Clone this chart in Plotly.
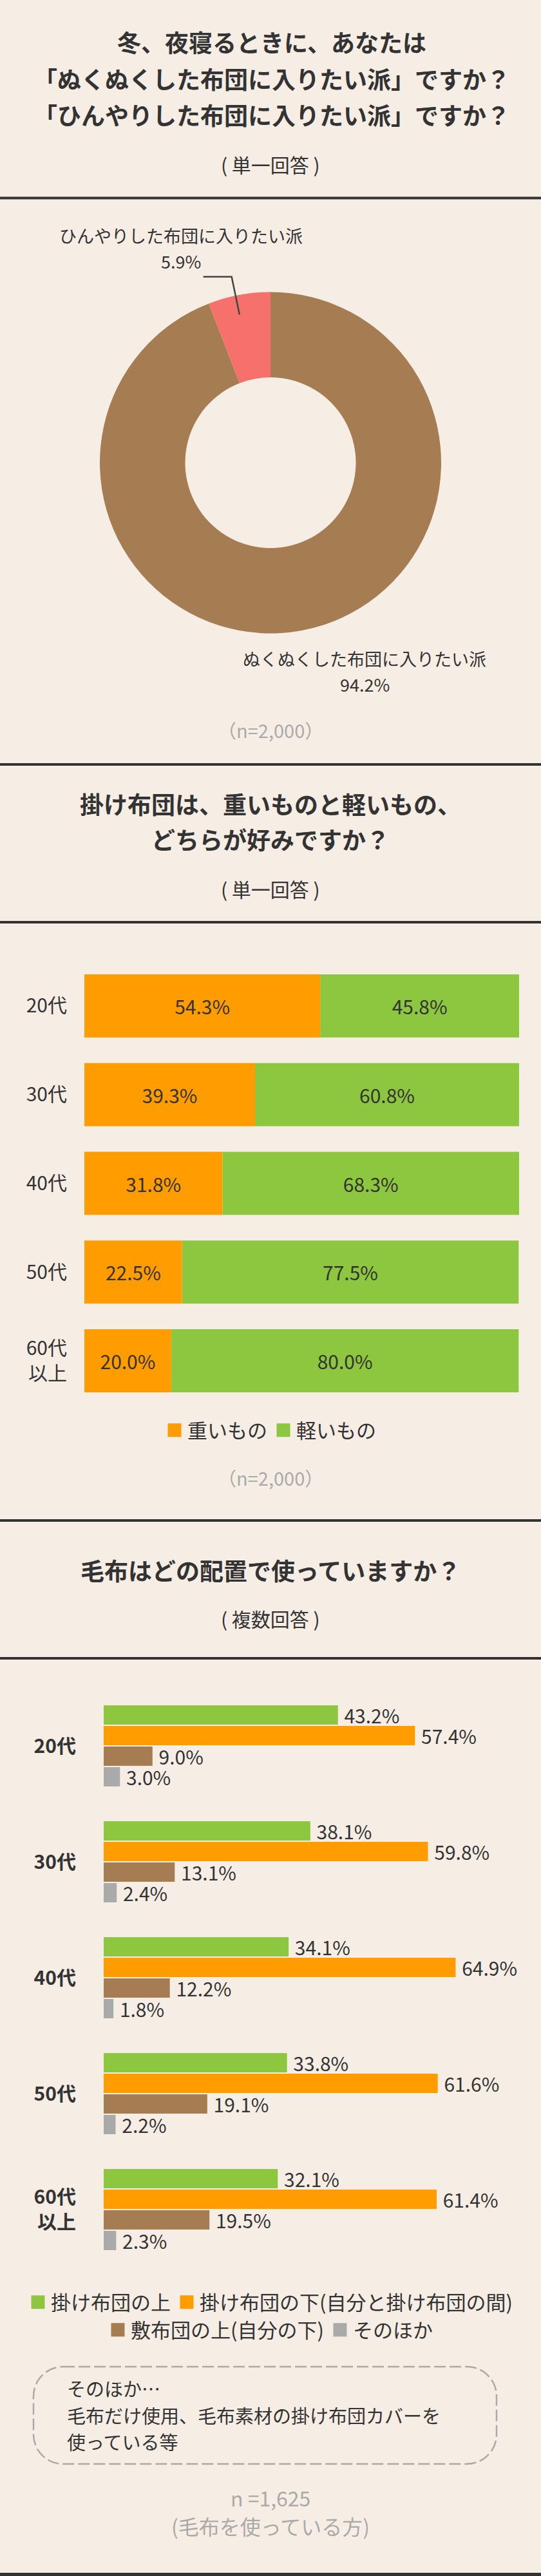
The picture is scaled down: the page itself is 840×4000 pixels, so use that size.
import math
import plotly.graph_objects as go

W, H = 840, 4000
BG = "#F6EEE5"
FONT = "Noto Sans CJK JP"
TXT = "#333333"
GRAY = "#AAAAAA"

# ---------------- data ----------------
# Q1
q1_labels = ["ぬくぬくした布団に入りたい派", "ひんやりした布団に入りたい派"]
q1_values = [94.2, 5.9]
q1_colors = ["#A67C52", "#F6706C"]

# Q2
ages = ["20代", "30代", "40代", "50代", "60代以上"]
age_ticks = ["20代", "30代", "40代", "50代", "60代<br>以上"]
q2_names = ["重いもの", "軽いもの"]
q2_heavy = [54.3, 39.3, 31.8, 22.5, 20.0]
q2_light = [45.8, 60.8, 68.3, 77.5, 80.0]
q2_colors = ["#FF9C00", "#8DC63F"]

# Q3
q3_names = ["掛け布団の上", "掛け布団の下(自分と掛け布団の間)", "敷布団の上(自分の下)", "そのほか"]
q3_top = [43.2, 38.1, 34.1, 33.8, 32.1]
q3_under = [57.4, 59.8, 64.9, 61.6, 61.4]
q3_shiki = [9.0, 13.1, 12.2, 19.1, 19.5]
q3_other = [3.0, 2.4, 1.8, 2.2, 2.3]
q3_colors = ["#8DC63F", "#FF9C00", "#A67C52", "#AAAAAA"]

titles1 = ["冬、夜寝るときに、あなたは",
           "「ぬくぬくした布団に入りたい派」ですか？",
           "「ひんやりした布団に入りたい派」ですか？"]
titles2 = ["掛け布団は、重いものと軽いもの、", "どちらが好みですか？"]
titles3 = ["毛布はどの配置で使っていますか？"]
note_lines = ["そのほか…", "毛布だけ使用、毛布素材の掛け布団カバーを", "使っている等"]


def X(px):
    return px / W


def Y(py):
    return 1 - py / H


def P(x, y):
    return f"{X(x):.6f},{Y(y):.6f}"


fig = go.Figure()

# ---------------- Q1 donut ----------------
pie_l, pie_r, pie_t, pie_b = 155, 685, 453.5, 983.5
fig.add_trace(go.Pie(
    labels=q1_labels, values=q1_values, hole=0.5, sort=False,
    direction="clockwise", rotation=0,
    marker=dict(colors=q1_colors, line=dict(width=0)),
    textinfo="none", hoverinfo="skip", showlegend=False,
    domain=dict(x=[X(pie_l), X(pie_r)], y=[Y(pie_b), Y(pie_t)]),
))

# ---------------- Q2 stacked bars ----------------
bw2 = 0.7115
fig.add_trace(go.Bar(
    y=ages, x=q2_heavy, orientation="h", width=bw2, offset=-bw2 / 2,
    marker=dict(color=q2_colors[0], line=dict(width=0)),
    text=[f"{v:.1f}%" for v in q2_heavy], textposition="inside",
    insidetextanchor="middle", constraintext="none",
    insidetextfont=dict(size=30, color=TXT, family=FONT),
    xaxis="x2", yaxis="y2", showlegend=False, hoverinfo="skip", name=q2_names[0],
))
fig.add_trace(go.Bar(
    y=ages, x=q2_light, base=q2_heavy, orientation="h", width=bw2, offset=-bw2 / 2,
    marker=dict(color=q2_colors[1], line=dict(width=0)),
    text=[f"{v:.1f}%" for v in q2_light], textposition="inside",
    insidetextanchor="middle", constraintext="none",
    insidetextfont=dict(size=30, color=TXT, family=FONT),
    xaxis="x2", yaxis="y2", showlegend=False, hoverinfo="skip", name=q2_names[1],
))
for name, col in zip(q2_names, q2_colors):
    fig.add_trace(go.Scatter(
        x=[None], y=[None], mode="markers", name=name,
        marker=dict(symbol="square", size=16, color=col, line=dict(width=5, color=col)),
        xaxis="x2", yaxis="y2", legend="legend", hoverinfo="skip",
    ))

# ---------------- Q3 grouped bars ----------------
q3_series = [q3_top, q3_under, q3_shiki, q3_other]
for name, vals, col in zip(q3_names, q3_series, q3_colors):
    fig.add_trace(go.Bar(
        y=ages, x=vals, orientation="h", name=name,
        marker=dict(color=col, line=dict(width=0)),
        text=[f"\u00a0{v:.1f}%" for v in vals], textposition="outside",
        constraintext="none", cliponaxis=False,
        outsidetextfont=dict(size=30, color=TXT, family=FONT),
        xaxis="x3", yaxis="y3", showlegend=False, hoverinfo="skip",
    ))
for i, (name, col) in enumerate(zip(q3_names, q3_colors)):
    fig.add_trace(go.Scatter(
        x=[None], y=[None], mode="markers", name=name,
        marker=dict(symbol="square", size=16, color=col, line=dict(width=5, color=col)),
        xaxis="x3", yaxis="y3", legend="legend2" if i < 2 else "legend3",
        hoverinfo="skip",
    ))

# ---------------- annotations ----------------
ann = []


def text(t, x, y, size, color=TXT, xanchor="center", bold=False):
    ann.append(dict(
        text=f"<b>{t}</b>" if bold else t, x=X(x), y=Y(y), xref="paper", yref="paper",
        xanchor=xanchor, yanchor="middle", showarrow=False,
        font=dict(size=size, color=color, family=FONT),
    ))


for t, yy in zip(titles1, [65, 122, 178]):
    text(t, 422, yy, 37, bold=True)
text("( 単一回答 )", 420, 255, 30)

text(q1_labels[1], 281, 365, 27)
text(f"{q1_values[1]:.1f}%", 281, 405, 27)
text(q1_labels[0], 566, 1023, 27)
text(f"{q1_values[0]:.1f}%", 566, 1062, 27)
text("（n=2,000）", 420, 1133, 29, color=GRAY)

for t, yy in zip(titles2, [1248, 1303]):
    text(t, 420, yy, 37, bold=True)
text("( 単一回答 )", 420, 1380, 30)
text("（n=2,000）", 420, 2294, 29, color=GRAY)

for t, yy in zip(titles3, [2438]):
    text(t, 420, yy, 37, bold=True)
text("( 複数回答 )", 420, 2513, 30)

for t, yy in zip(note_lines, [3708, 3750, 3791]):
    text(t, 102, yy, 29, xanchor="left")
text("n =1,625", 420, 3878, 32, color=GRAY)
text("(毛布を使っている方)", 420, 3922, 32, color=GRAY)

# ---------------- shapes ----------------
shapes = []
for yy in [307.5, 1187, 1432, 2361, 2575]:
    shapes.append(dict(type="line", xref="paper", yref="paper", x0=0, x1=1,
                       y0=Y(yy), y1=Y(yy), line=dict(color="#333333", width=4)))
shapes.append(dict(type="line", xref="paper", yref="paper", x0=0, x1=1,
                   y0=Y(3997.5), y1=Y(3997.5), line=dict(color="#333333", width=5)))

# leader line from the small slice (last slice, just left of 12 o'clock)
R = (pie_r - pie_l) / 2
cx, cy = (pie_l + pie_r) / 2, (pie_t + pie_b) / 2
mid = math.radians(q1_values[1] / sum(q1_values) * 360 / 2 + 1.2)
p1 = (cx - 0.887 * R * math.sin(mid), cy - 0.887 * R * math.cos(mid))
p2 = (cx - 1.113 * R * math.sin(mid), cy - 1.113 * R * math.cos(mid))
p3 = (p2[0] - 44, p2[1])
shapes.append(dict(type="path", xref="paper", yref="paper",
                   path=f"M {P(*p1)} L {P(*p2)} L {P(*p3)}",
                   line=dict(color="#444444", width=2.5)))

# dashed rounded note box
bl, br, bt, bb, r = 52, 771, 3675, 3826, 46
k = 0.5523 * r
box = (f"M {P(bl + r, bt)} L {P(br - r, bt)} "
       f"C {P(br - r + k, bt)} {P(br, bt + r - k)} {P(br, bt + r)} "
       f"L {P(br, bb - r)} C {P(br, bb - r + k)} {P(br - r + k, bb)} {P(br - r, bb)} "
       f"L {P(bl + r, bb)} C {P(bl + r - k, bb)} {P(bl, bb - r + k)} {P(bl, bb - r)} "
       f"L {P(bl, bt + r)} C {P(bl, bt + r - k)} {P(bl + r - k, bt)} {P(bl + r, bt)} Z")
shapes.append(dict(type="path", xref="paper", yref="paper", path=box,
                   line=dict(color=GRAY, width=2.5, dash="18px,6px")))

legend_common = dict(orientation="h", xanchor="center", x=0.5, yanchor="middle",
                     font=dict(size=31, color=TXT, family=FONT),
                     bgcolor="rgba(0,0,0,0)", itemclick=False, itemdoubleclick=False,
                     itemwidth=30, traceorder="normal")

fig.update_layout(
    width=W, height=H, margin=dict(l=0, r=0, t=0, b=0),
    paper_bgcolor=BG, plot_bgcolor=BG,
    font=dict(family=FONT, color=TXT),
    barmode="group", bargap=0.289, bargroupgap=0.0625,
    xaxis2=dict(domain=[X(131), X(806)], range=[0, 100.1], visible=False,
                anchor="y2", fixedrange=True),
    yaxis2=dict(domain=[Y(2182), Y(1493)], anchor="x2", type="category",
                categoryarray=ages, range=[4.5, -0.5], tickvals=ages, ticktext=age_ticks,
                showgrid=False, zeroline=False, showline=False, ticks="",
                ticklabelstandoff=26, tickfont=dict(size=30, color=TXT, family=FONT),
                fixedrange=True),
    xaxis3=dict(domain=[X(161), X(834.6)], range=[0, 80], visible=False,
                anchor="y3", fixedrange=True),
    yaxis3=dict(domain=[Y(3521), Y(2621)], anchor="x3", type="category",
                categoryarray=ages, range=[4.5, -0.5], tickvals=ages,
                ticktext=[f"<b>{t}</b>" for t in age_ticks],
                showgrid=False, zeroline=False, showline=False, ticks="",
                ticklabelstandoff=42, tickfont=dict(size=30, color=TXT, family=FONT),
                fixedrange=True),
    legend=dict(y=Y(2221), **legend_common),
    legend2=dict(y=Y(3575), **legend_common),
    legend3=dict(y=Y(3618), **legend_common),
    annotations=ann,
    shapes=shapes,
    hovermode=False,
)

fig.write_html("out.html")
